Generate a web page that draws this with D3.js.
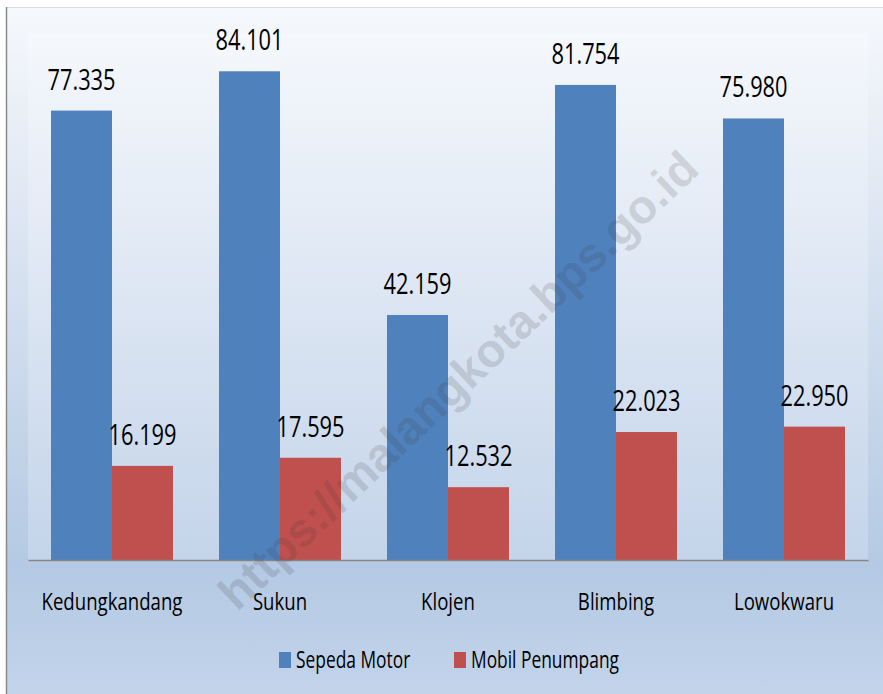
<!DOCTYPE html>
<html>
<head>
<meta charset="utf-8">
<title>Sepeda Motor dan Mobil Penumpang</title>
<script src="https://cdn.jsdelivr.net/npm/d3@7"></script>
<style>
  body { margin: 0; background: #ffffff; }
  svg { display: block; }
  .lbl { font-family: "Open Sans", sans-serif; fill: #000; }
  .wm { font-family: "Liberation Sans", Arial, sans-serif; font-weight: bold; }
</style>
</head>
<body>
<svg width="883" height="694"></svg>
<script>
var categories = ["Kedungkandang", "Sukun", "Klojen", "Blimbing", "Lowokwaru"];
var seriesNames = ["Sepeda Motor", "Mobil Penumpang"];
var sepedaMotor = [77.335, 84.101, 42.159, 81.754, 75.980];
var mobilPenumpang = [16.199, 17.595, 12.532, 22.023, 22.950];
var colors = ["#4F81BD", "#C0504D"];

var svg = d3.select("svg"),
    plot = { left: 28, right: 868, top: 37, bottom: 560 },
    squeeze = 0.74; // text in the picture is narrow, like a squeezed Calibri

var table = categories.map(function(c, i) {
  return { cat: c, values: [sepedaMotor[i], mobilPenumpang[i]] };
});

var defs = svg.append("defs");
var g1 = defs.append("linearGradient").attr("id", "outerBg")
  .attr("x1", 0).attr("y1", 0).attr("x2", 0).attr("y2", 1);
g1.append("stop").attr("offset", "0%").attr("stop-color", "#F6F8FC");
g1.append("stop").attr("offset", "80%").attr("stop-color", "#B4C9E3");
g1.append("stop").attr("offset", "100%").attr("stop-color", "#C4D5EB");
var g2 = defs.append("linearGradient").attr("id", "plotBg")
  .attr("x1", 0).attr("y1", 0).attr("x2", 0).attr("y2", 1);
g2.append("stop").attr("offset", "0%").attr("stop-color", "#F5F8FC");
g2.append("stop").attr("offset", "100%").attr("stop-color", "#C4D4EA");

// chart area and plot area
svg.append("rect").attr("x", 6).attr("y", 7).attr("width", 900).attr("height", 700)
  .attr("fill", "url(#outerBg)");
svg.append("line").attr("x1", 6).attr("x2", 883).attr("y1", 7.5).attr("y2", 7.5)
  .attr("stroke", "#DADCE0").attr("stroke-width", 1);
svg.append("line").attr("x1", 6.5).attr("x2", 6.5).attr("y1", 7).attr("y2", 694)
  .attr("stroke", "#8A8A8A").attr("stroke-width", 1.5);
svg.append("rect").attr("x", plot.left).attr("y", plot.top - 4)
  .attr("width", plot.right - plot.left).attr("height", plot.bottom - plot.top + 4)
  .attr("fill", "url(#plotBg)");

var x0 = d3.scaleBand().domain(categories).range([plot.left, plot.right]).padding(0);
var x1 = d3.scaleBand().domain(seriesNames).range([0, x0.bandwidth()])
  .paddingInner(0).paddingOuter(0.377);
var y = d3.scaleLinear().domain([0, 90]).range([plot.bottom, plot.top]);
var fmt = d3.format(".3f");

function squeezed(sel, x, yy) {
  sel.attr("transform", "translate(" + x + "," + yy + ") scale(" + squeeze + ",1)");
}

var groups = svg.append("g").selectAll("g").data(table).enter().append("g")
  .attr("transform", function(d) { return "translate(" + x0(d.cat) + ",0)"; });

groups.selectAll("rect").data(function(d) {
  return d.values.map(function(v, i) { return { name: seriesNames[i], value: v, i: i }; });
}).enter().append("rect")
  .attr("x", function(d) { return x1(d.name); })
  .attr("y", function(d) { return y(d.value); })
  .attr("width", x1.bandwidth())
  .attr("height", function(d) { return y(0) - y(d.value); })
  .attr("fill", function(d) { return colors[d.i]; });

groups.selectAll("text").data(function(d) {
  return d.values.map(function(v, i) { return { name: seriesNames[i], value: v }; });
}).enter().append("text")
  .attr("class", "lbl")
  .attr("text-anchor", "middle")
  .style("font-size", "29.5px")
  .each(function(d) {
    squeezed(d3.select(this), x1(d.name) + x1.bandwidth() / 2, y(d.value) - 21);
  })
  .text(function(d) { return fmt(d.value); });

// category axis
var axis = svg.append("g").attr("transform", "translate(0," + plot.bottom + ")")
  .call(d3.axisBottom(x0).tickSize(0).tickPadding(0));
axis.select(".domain").attr("stroke", "#868686").attr("stroke-width", 1.6);
axis.selectAll(".tick text").remove();
axis.selectAll(".tick").append("text")
  .attr("class", "lbl")
  .attr("text-anchor", "middle")
  .style("font-size", "24.5px")
  .attr("fill", "#000")
  .attr("transform", "translate(0,49.5) scale(0.76,1)")
  .text(function(d) { return d; });

// legend
var legendX = [279, 454];
var legend = svg.append("g").selectAll("g").data(seriesNames).enter().append("g")
  .attr("transform", function(d, i) { return "translate(" + legendX[i] + ",652)"; });
legend.append("rect").attr("width", 12).attr("height", 16)
  .attr("fill", function(d, i) { return colors[i]; });
legend.append("text").attr("class", "lbl")
  .style("font-size", "23.5px")
  .attr("transform", "translate(17,16) scale(" + squeeze + ",1)")
  .text(function(d) { return d; });

// watermark
svg.append("text").attr("class", "wm")
  .attr("text-anchor", "middle")
  .attr("dominant-baseline", "central")
  .attr("transform", "translate(458,380) rotate(-43.5)")
  .style("font-size", "47px")
  .attr("fill", "#3C3C3C")
  .attr("fill-opacity", 0.18)
  .text("https://malangkota.bps.go.id");
</script>
</body>
</html>
